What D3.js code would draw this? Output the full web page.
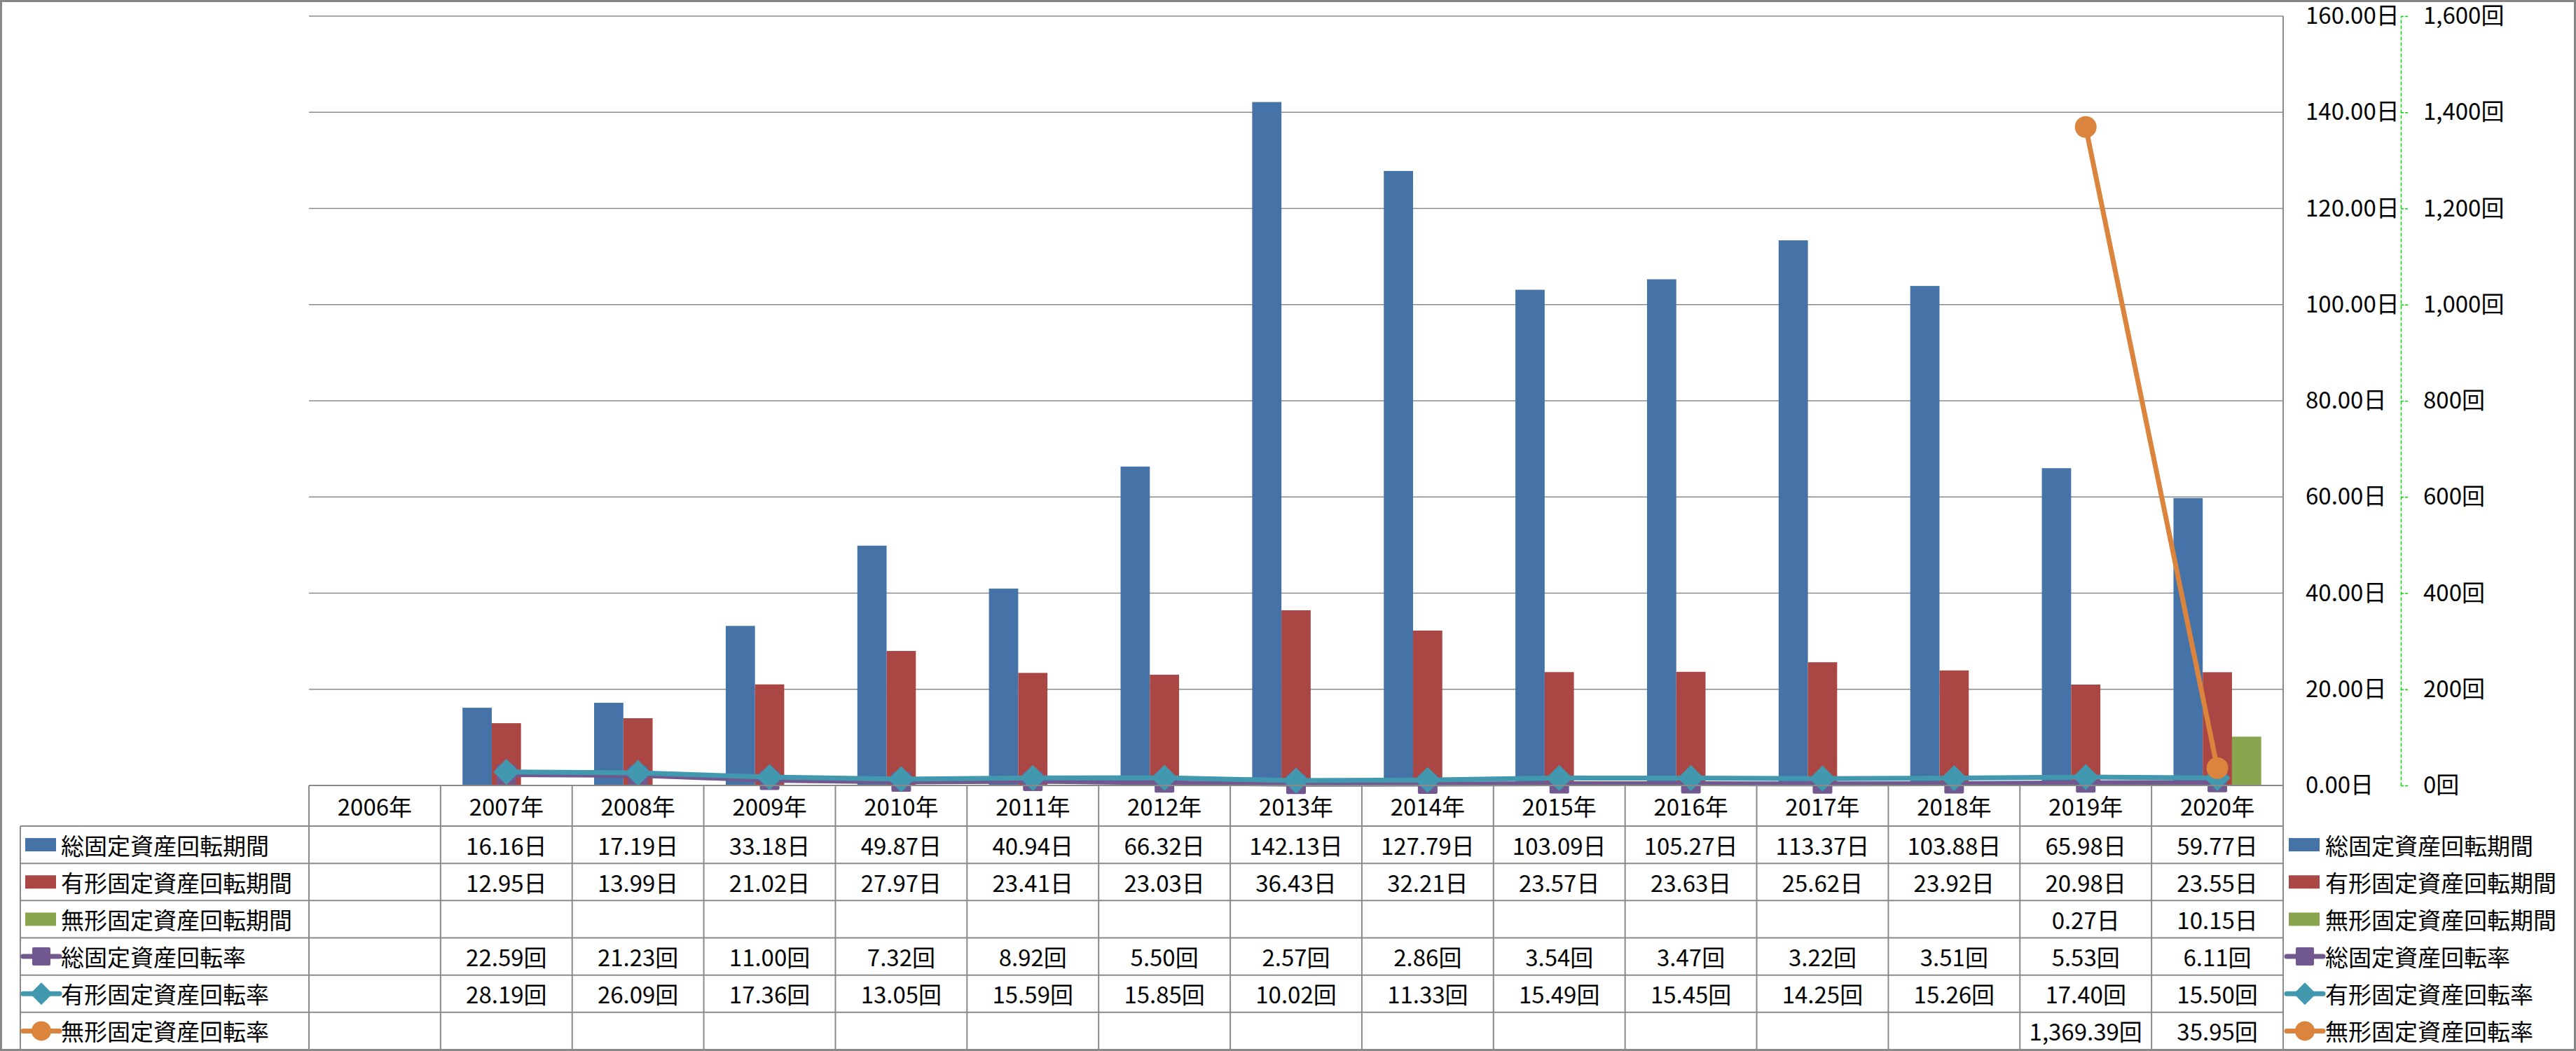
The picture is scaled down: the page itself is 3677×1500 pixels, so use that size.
<!DOCTYPE html>
<html><head><meta charset="utf-8">
<script src="https://cdn.jsdelivr.net/npm/d3@7"></script>
<style>
body{margin:0;background:#fff}
svg{display:block}
text{font-family:"Noto Sans CJK JP","Noto Sans",sans-serif;fill:#000}
</style>
</head><body>
<svg id="c" width="3677" height="1500"></svg>
<script>
// ---- data ----
const years = ["2006年","2007年","2008年","2009年","2010年","2011年","2012年","2013年","2014年","2015年","2016年","2017年","2018年","2019年","2020年"];
const totalPeriod    = [null,16.16,17.19,33.18,49.87,40.94,66.32,142.13,127.79,103.09,105.27,113.37,103.88,65.98,59.77];
const tangiblePeriod = [null,12.95,13.99,21.02,27.97,23.41,23.03,36.43,32.21,23.57,23.63,25.62,23.92,20.98,23.55];
const intangiblePeriod = [null,null,null,null,null,null,null,null,null,null,null,null,null,0.27,10.15];
const totalRate      = [null,22.59,21.23,11.00,7.32,8.92,5.50,2.57,2.86,3.54,3.47,3.22,3.51,5.53,6.11];
const tangibleRate   = [null,28.19,26.09,17.36,13.05,15.59,15.85,10.02,11.33,15.49,15.45,14.25,15.26,17.40,15.50];
const intangibleRate = [null,null,null,null,null,null,null,null,null,null,null,null,null,1369.39,35.95];
const seriesNames = ["総固定資産回転期間","有形固定資産回転期間","無形固定資産回転期間","総固定資産回転率","有形固定資産回転率","無形固定資産回転率"];
const leftTicks = [0,20,40,60,80,100,120,140,160];
const rightTicks = [0,200,400,600,800,1000,1200,1400,1600];

// ---- styles ----
const colors = ["#4572A7","#AA4643","#89A54E","#71588F","#4198AF","#DB843D"];
const gridColor = "#8a8a8a";
const FS = 33;

const svg = d3.select("#c");
const plot = {left:441, right:3259, top:23, bottom:1121};
const tableTop = 1121, headerBottom = 1179, rowH = (1498-1179)/6;

const x = d3.scaleBand().domain(years).range([plot.left, plot.right]).padding(0);
const xb = d3.scaleBand().domain([0,1,2]).range([0, x.bandwidth()]).paddingInner(0).paddingOuter(0.75);
const y = d3.scaleLinear().domain([0,160]).range([plot.bottom, plot.top]);
const y2 = d3.scaleLinear().domain([0,1600]).range([plot.bottom, plot.top]);

// outer border
svg.append("rect").attr("x",1.5).attr("y",1.5).attr("width",3674).attr("height",1497)
  .attr("fill","none").attr("stroke","#878787").attr("stroke-width",3);

// gridlines
svg.append("g").selectAll("line").data(leftTicks.filter(d=>d>0)).join("line")
  .attr("x1",plot.left).attr("x2",plot.right).attr("y1",d=>y(d)).attr("y2",d=>y(d))
  .attr("stroke",gridColor).attr("stroke-width",1.5);

// bars
const barSeries = [totalPeriod, tangiblePeriod, intangiblePeriod];
barSeries.forEach((s,si)=>{
  svg.append("g").selectAll("rect").data(years.map((yr,i)=>({yr,v:s[i]})).filter(d=>d.v!=null)).join("rect")
    .attr("x",d=>x(d.yr)+xb(si)).attr("width",xb.bandwidth())
    .attr("y",d=>y(d.v)).attr("height",d=>y(0)-y(d.v))
    .attr("fill",colors[si]);
});

// lines
const lineSeries = [totalRate, tangibleRate, intangibleRate];
const cx = yr => x(yr)+x.bandwidth()/2;
function marker(g, type, cxv, cyv, color, size){
  if(type==="square") g.append("rect").attr("x",cxv-size/2).attr("y",cyv-size/2).attr("width",size).attr("height",size).attr("rx",2).attr("fill",color);
  else if(type==="diamond") g.append("path").attr("d",d3.symbol(d3.symbolDiamond2, size*size/2)()).attr("transform",`translate(${cxv},${cyv})`).attr("fill",color);
  else g.append("circle").attr("cx",cxv).attr("cy",cyv).attr("r",size/2).attr("fill",color);
}
const mTypes = ["square","diamond","circle"];
const mSizes = [28,42,31];
lineSeries.forEach((s,si)=>{
  const pts = years.map((yr,i)=>({yr,v:s[i]})).filter(d=>d.v!=null);
  const g = svg.append("g");
  g.append("path").datum(pts)
    .attr("d", d3.line().x(d=>cx(d.yr)).y(d=>y2(d.v)))
    .attr("fill","none").attr("stroke",colors[si+3]).attr("stroke-width",7).attr("stroke-linejoin","round");
  pts.forEach(d=>marker(g, mTypes[si], cx(d.yr), y2(d.v), colors[si+3], mSizes[si]));
});

// primary axis (right)
const ax1 = svg.append("g").attr("transform",`translate(${plot.right},0)`)
  .call(d3.axisRight(y).tickValues(leftTicks).tickSize(0).tickPadding(32)
    .tickFormat(d=>d3.format(".2f")(d)+"日"));
ax1.select(".domain").remove();
ax1.selectAll("text").attr("font-size",FS).attr("fill","#000").style("font-family",'"Noto Sans CJK JP",sans-serif');

// secondary axis
const ax2 = svg.append("g").attr("transform",`translate(3427,0)`)
  .call(d3.axisRight(y2).tickValues(rightTicks).tickSizeInner(10).tickSizeOuter(0).tickPadding(22)
    .tickFormat(d=>d3.format(",")(d)+"回"));
ax2.select(".domain").attr("stroke","#00dd00").attr("stroke-width",1.5).attr("stroke-dasharray","5,3");
ax2.selectAll(".tick line").attr("stroke","#00dd00").attr("stroke-width",1.5).attr("stroke-dasharray","4,2");
ax2.selectAll("text").attr("font-size",FS).attr("fill","#000").style("font-family",'"Noto Sans CJK JP",sans-serif');

// ---- data table ----
const tg = svg.append("g");
// horizontal lines
tg.append("line").attr("x1",plot.left).attr("x2",plot.right).attr("y1",tableTop).attr("y2",tableTop)
  .attr("stroke",gridColor).attr("stroke-width",2);
d3.range(7).forEach(i=>{
  const yy = headerBottom + i*rowH;
  tg.append("line").attr("x1",29).attr("x2",plot.right).attr("y1",yy).attr("y2",yy)
    .attr("stroke",gridColor).attr("stroke-width",2);
});
// vertical lines
tg.append("line").attr("x1",29).attr("x2",29).attr("y1",headerBottom).attr("y2",1498).attr("stroke",gridColor).attr("stroke-width",2);
tg.append("line").attr("x1",plot.left).attr("x2",plot.left).attr("y1",tableTop).attr("y2",1498).attr("stroke",gridColor).attr("stroke-width",2);
years.forEach((yr,i)=>{
  const xx = x(yr)+x.bandwidth();
  tg.append("line").attr("x1",xx).attr("x2",xx).attr("y1", i===years.length-1 ? plot.top : tableTop).attr("y2",1498)
    .attr("stroke",gridColor).attr("stroke-width",2);
});
// header
tg.selectAll("text.hdr").data(years).join("text").attr("class","hdr")
  .attr("x",d=>cx(d)).attr("y",(tableTop+headerBottom)/2).attr("text-anchor","middle")
  .attr("dominant-baseline","central").attr("font-size",FS).text(d=>d);
// values
const allSeries = [totalPeriod,tangiblePeriod,intangiblePeriod,totalRate,tangibleRate,intangibleRate];
const fmt = d3.format(",.2f");
allSeries.forEach((s,si)=>{
  const rc = headerBottom + si*rowH + rowH/2;
  const unit = si<3 ? "日" : "回";
  tg.append("g").selectAll("text").data(years.map((yr,i)=>({yr,v:s[i]})).filter(d=>d.v!=null)).join("text")
    .attr("x",d=>cx(d.yr)).attr("y",rc).attr("text-anchor","middle").attr("dominant-baseline","central")
    .attr("font-size",FS).text(d=>fmt(d.v)+unit);
});

// legend keys (table + right legend)
function legendKey(g, si, kx, ky){
  if(si<3){
    g.append("rect").attr("x",kx).attr("y",ky-9.5).attr("width",44).attr("height",19).attr("fill",colors[si]);
  } else {
    g.append("line").attr("x1",kx-3).attr("x2",kx+49).attr("y1",ky).attr("y2",ky)
      .attr("stroke",colors[si]).attr("stroke-width",7).attr("stroke-linecap","round");
    marker(g, mTypes[si-3], kx+23, ky, colors[si], [26,36,28][si-3]);
  }
}
seriesNames.forEach((name,si)=>{
  const rc = headerBottom + si*rowH + rowH/2;
  const g1 = svg.append("g");
  legendKey(g1, si, 36, rc);
  g1.append("text").attr("x",87).attr("y",rc).attr("dominant-baseline","central").attr("font-size",FS).text(name);
  const g2 = svg.append("g");
  legendKey(g2, si, 3267, rc);
  g2.append("text").attr("x",3319).attr("y",rc).attr("dominant-baseline","central").attr("font-size",FS).text(name);
});
</script>
</body></html>
